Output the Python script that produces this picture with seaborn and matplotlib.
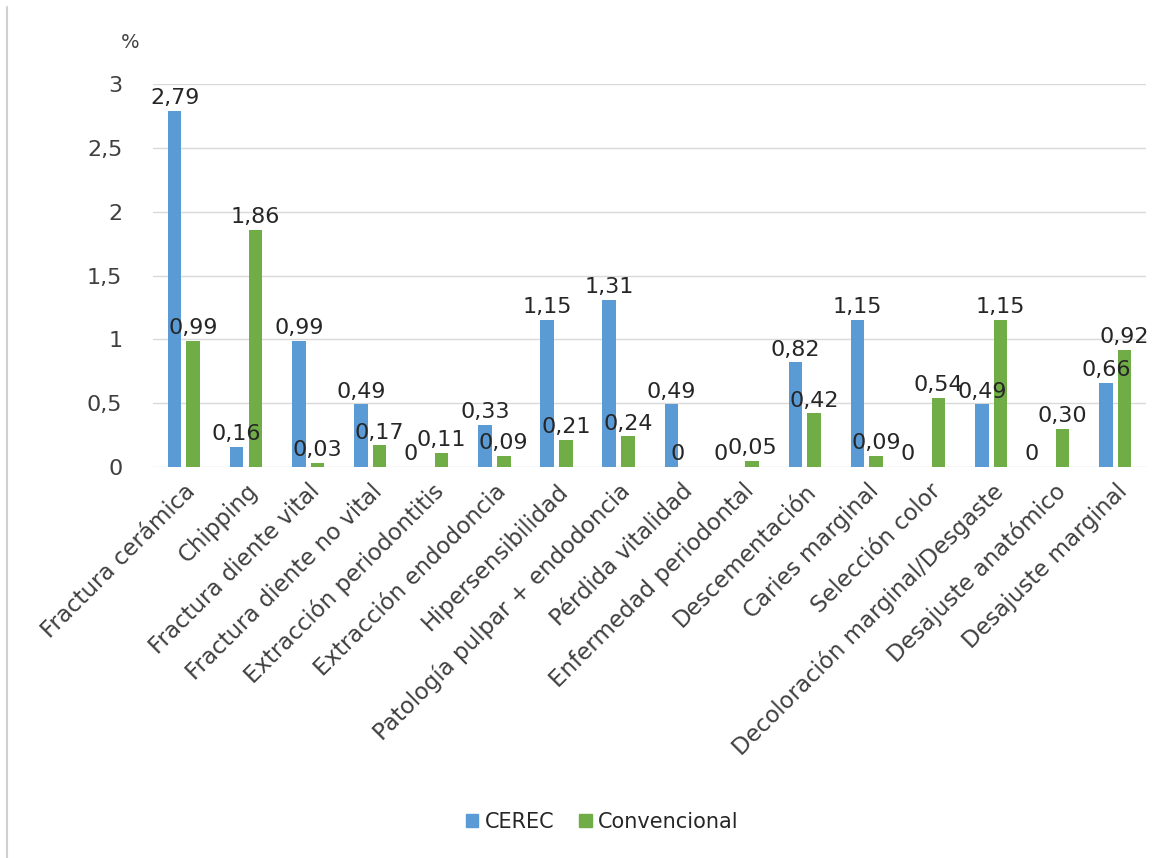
import pandas as pd
import matplotlib
matplotlib.use('Agg')
import matplotlib.pyplot as plt
import seaborn as sns
from matplotlib.ticker import FuncFormatter
from matplotlib.lines import Line2D

# datos
categorias = ['Fractura cerámica', 'Chipping', 'Fractura diente vital', 'Fractura diente no vital',
              'Extracción periodontitis', 'Extracción endodoncia', 'Hipersensibilidad',
              'Patología pulpar + endodoncia', 'Pérdida vitalidad', 'Enfermedad periodontal',
              'Descementación', 'Caries marginal', 'Selección color',
              'Decoloración marginal/Desgaste', 'Desajuste anatómico', 'Desajuste marginal']
cerec = [2.79, 0.16, 0.99, 0.49, 0, 0.33, 1.15, 1.31, 0.49, 0, 0.82, 1.15, 0, 0.49, 0, 0.66]
convencional = [0.99, 1.86, 0.03, 0.17, 0.11, 0.09, 0.21, 0.24, 0, 0.05, 0.42, 0.09, 0.54, 1.15, 0.30, 0.92]
series = ['CEREC', 'Convencional']
colores = ['#5B9BD5', '#70AD47']

df = pd.DataFrame({
    'categoria': categorias * 2,
    'valor': cerec + convencional,
    'serie': [series[0]] * len(categorias) + [series[1]] * len(categorias),
})

sns.set_theme(style='white')
plt.rcParams['font.family'] = ['DejaVu Sans']

fig = plt.figure(figsize=(11.58, 8.58), dpi=100)
ax = fig.add_axes([0.132, 0.4557, 0.858, 0.4463])

sns.barplot(data=df, x='categoria', y='valor', hue='serie', palette=colores,
            width=0.6, gap=0.27, saturation=1, linewidth=0, ax=ax, legend=False, errorbar=None)


def etiqueta(v):
    if v == 0:
        return ''
    return f'{v:.2f}'.replace('.', ',')


# etiquetas de datos; los ceros un poco a la izquierda como en Excel
for cont in ax.containers:
    ax.bar_label(cont, labels=[etiqueta(b.get_height()) for b in cont],
                 padding=2, fontsize=16, color='#262626')
    for b in cont:
        if b.get_height() == 0:
            ax.annotate('0', (b.get_x() + b.get_width() / 2, 0), xytext=(-9, 2),
                        textcoords='offset points', ha='center', va='bottom',
                        fontsize=16, color='#262626')

# ejes
ax.set_ylim(0, 3)
ax.set_xlim(-0.5, len(categorias) - 0.5)
ax.set_yticks([0, 0.5, 1, 1.5, 2, 2.5, 3])
ax.yaxis.set_major_formatter(FuncFormatter(lambda v, p: f'{v:g}'.replace('.', ',')))
ax.grid(axis='y', color='#d9d9d9', linewidth=1)
ax.set_axisbelow(True)
for s in ax.spines.values():
    s.set_visible(False)
ax.tick_params(axis='y', length=0, pad=22, labelsize=16, labelcolor='#404040')
ax.tick_params(axis='x', length=0, pad=9, labelsize=16.5, labelcolor='#404040')
ax.set_xlabel('')
ax.set_ylabel('')
plt.setp(ax.get_xticklabels(), rotation=45, ha='right', rotation_mode='anchor')

fig.text(0.112, 0.951, '%', fontsize=14, color='#404040', ha='center', va='center')

# leyenda
handles = [plt.Rectangle((0, 0), 1, 1, color=c) for c in colores]
fig.legend(handles, series, loc='center', bbox_to_anchor=(0.52, 0.042), ncol=2, frameon=False,
           fontsize=15, handlelength=0.6, handleheight=0.6, handletextpad=0.3, columnspacing=1.2,
           labelcolor='#262626')

# borde izquierdo
fig.add_artist(Line2D([7.5 / 1158, 7.5 / 1158], [0, 1 - 7 / 858], color='#d0d0d0', linewidth=1.5))

plt.savefig('out.png', dpi=100)
plt.close()
